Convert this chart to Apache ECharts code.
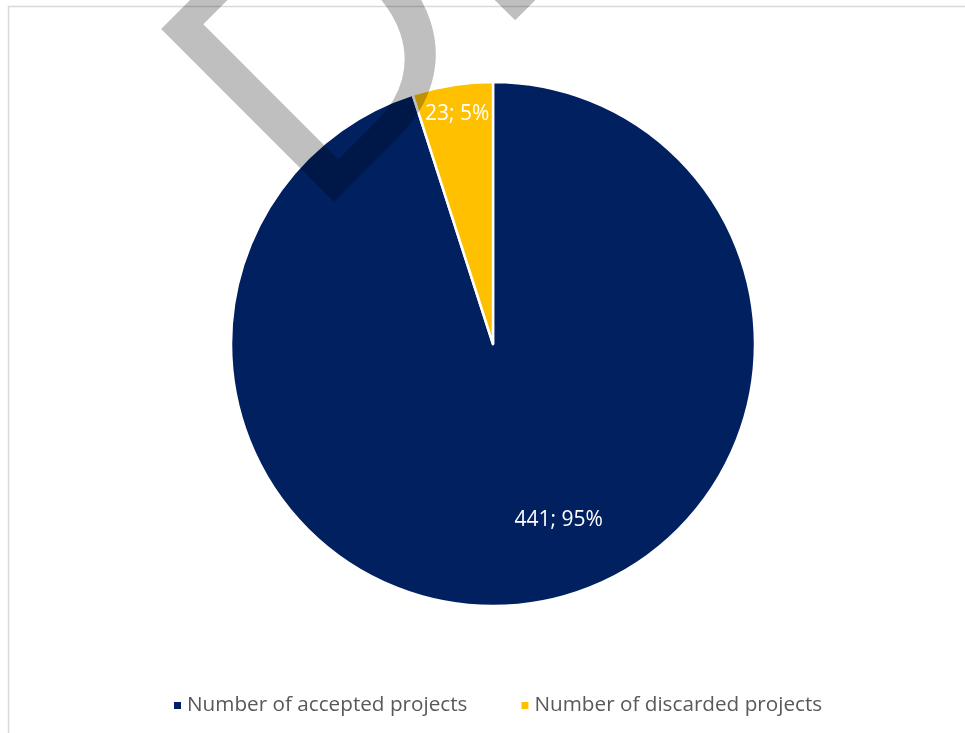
<!DOCTYPE html>
<html>
<head>
<meta charset="utf-8">
<script src="https://cdn.jsdelivr.net/npm/echarts@6/dist/echarts.min.js"></script>
<style>
html,body{margin:0;padding:0;background:#fff;}
#chart{width:965px;height:733px;}
</style>
</head>
<body>
<div id="chart"></div>
<script>
const categories = ["Number of accepted projects", "Number of discarded projects"];
const values = [441, 23];
const colors = ["#002060", "#FFC000"];
const labelOffsets = [[45, 44], [-15, -98]];
const watermarkText = "DRAFT";

const total = values.reduce((a, b) => a + b, 0);
const chart = echarts.init(document.getElementById('chart'), null, {renderer: 'canvas'});
const fontFam = "'Open Sans', 'Liberation Sans', sans-serif";

chart.setOption({
  animation: false,
  backgroundColor: '#ffffff',
  legend: {
    bottom: 12,
    left: 167,
    itemWidth: 9,
    itemHeight: 9,
    itemGap: 52,
    icon: 'rect',
    data: categories,
    textStyle: {color: '#595959', fontSize: 20.7, fontFamily: fontFam}
  },
  graphic: [
    {
      type: 'rect',
      z: 0,
      shape: {x: 8.5, y: 6.5, width: 1000, height: 1000},
      style: {fill: null, stroke: '#d9d9d9', lineWidth: 1.5}
    },
    {
      type: 'text',
      z: 100,
      x: 244,
      y: 153,
      rotation: Math.PI / 4,
      style: {
        text: watermarkText,
        font: "355px 'Liberation Sans', Arial, sans-serif",
        fill: 'rgba(0,0,0,0.25)',
        align: 'left',
        verticalAlign: 'middle'
      }
    }
  ],
  series: [{
    type: 'pie',
    center: [493, 344],
    radius: 262,
    startAngle: 90,
    clockwise: true,
    avoidLabelOverlap: false,
    itemStyle: {borderColor: '#ffffff', borderWidth: 2.5},
    label: {
      show: true,
      position: 'inside',
      color: '#ffffff',
      fontSize: 21,
      fontFamily: fontFam,
      formatter: p => p.value + '; ' + Math.round(p.value / total * 100) + '%'
    },
    labelLine: {show: false},
    data: categories.map((c, i) => ({
      name: c,
      value: values[i],
      itemStyle: {color: colors[i]},
      label: {offset: labelOffsets[i]}
    }))
  }]
});
</script>
</body>
</html>
